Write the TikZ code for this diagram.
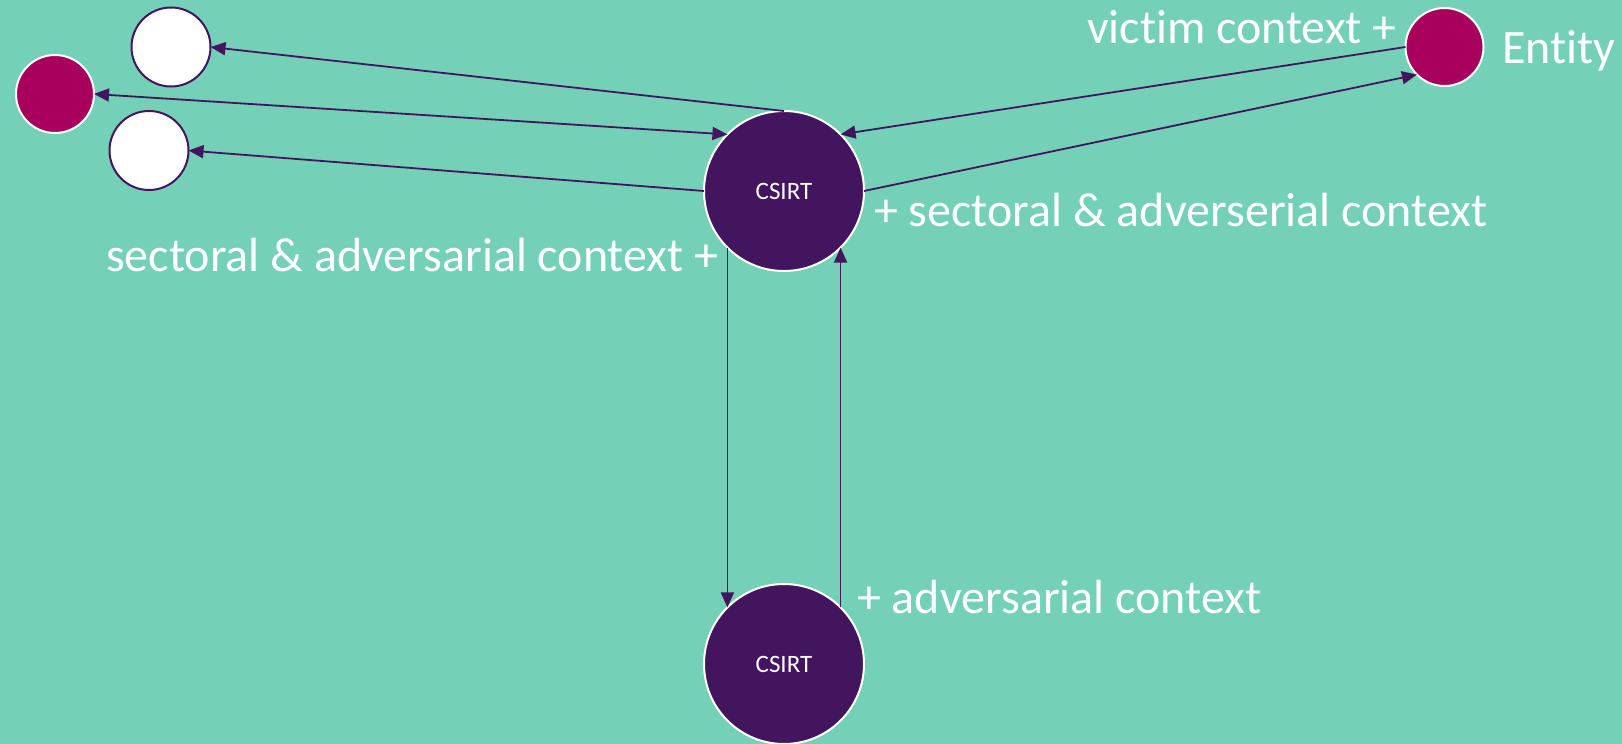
\documentclass[tikz,border=0pt]{standalone}
\usepackage{fontspec}
\setmainfont{Carlito}[Ligatures={NoCommon}]
\newfontfamily\lblfont{Carlito}[Ligatures={NoCommon}]
\usetikzlibrary{arrows.meta}
\definecolor{bgc}{RGB}{116,209,183}
\definecolor{purp}{RGB}{66,21,94}
\definecolor{mag}{RGB}{168,0,92}
\tikzset{
  csirt/.style={circle,fill=purp,draw=white,line width=2pt,minimum size=160pt,inner sep=0pt,outer sep=0pt,text=white,font=\lblfont\fontsize{25}{25}\selectfont},
  whitenode/.style={circle,fill=white,draw=purp,line width=2pt,minimum size=79pt,inner sep=0pt,outer sep=0pt},
  magnode/.style={circle,fill=mag,draw=white,line width=2pt,minimum size=78pt,inner sep=0pt,outer sep=0pt},
  lbl/.style={text=white,inner sep=0pt,font=\lblfont\fontsize{48}{48}\selectfont},
  conn/.style={draw=purp,line width=1.8pt,-{Triangle[length=15pt,width=13pt]}},
  conn2/.style={draw=purp,line width=1.8pt,{Triangle[length=15pt,width=13pt]}-{Triangle[length=15pt,width=13pt]}}
}
\begin{document}
\begin{tikzpicture}[x=1pt,y=-1pt]
\fill[bgc] (0,0) rectangle (1622,744);
\useasboundingbox (0,0) rectangle (1622,744);
\node[csirt] (cA) at (784,191) {CSIRT};
\node[csirt] (cB) at (784,664) {CSIRT};
\node[whitenode] (w1) at (171,47) {};
\node[magnode] (m1) at (55,94) {};
\node[whitenode] (w2) at (149,150.5) {};
\node[magnode] (ent) at (1444.5,47) {};
\node[lbl,anchor=base east] (tvic) at (1397,43) {victim context +};
\node[lbl,anchor=base west] (tent) at (1502,63) {Entity};
\node[lbl,anchor=base west] (tsec) at (874,226.5) {+ sectoral \& adverserial context};
\node[lbl,anchor=base east] (tsec2) at (718.5,271.5) {sectoral \& adversarial context +};
\node[lbl,anchor=base west] (tadv) at (857,613) {+ adversarial context};
\draw[conn] (cA.north) -- (w1.east);
\draw[conn2] (m1.east) -- (cA.north west);
\draw[conn] (cA.west) -- (w2.east);
\draw[conn] (ent.west) -- (cA.north east);
\draw[conn] (cA.east) -- (ent.south west);
\draw[conn] (cA.south west) -- (cB.north west);
\draw[conn] (cB.north east) -- (cA.south east);
\end{tikzpicture}
\end{document}
